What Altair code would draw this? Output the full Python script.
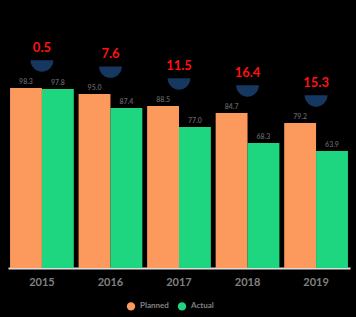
import altair as alt
import pandas as pd

years = ["2015", "2016", "2017", "2018", "2019"]
series_names = ["Planned", "Actual"]
planned = [98.3, 95.0, 88.5, 84.7, 79.2]
actual = [97.8, 87.4, 77.0, 68.3, 63.9]
gap_labels = ["0.5", "7.6", "11.5", "16.4", "15.3"]

rows = []
for i, y in enumerate(years):
    rows.append({"year": y, "series": series_names[0], "value": planned[i], "label": f"{planned[i]:.1f}"})
    rows.append({"year": y, "series": series_names[1], "value": actual[i], "label": f"{actual[i]:.1f}"})
df = pd.DataFrame(rows)
gap_df = pd.DataFrame({"year": years, "top": planned, "gap": gap_labels})

xscale = alt.Scale(domain=years, paddingInner=0.07, paddingOuter=0.03)
yscale = alt.Scale(domain=[0, 130])
color = alt.Scale(domain=series_names, range=["#FC9A5E", "#1ED680"])

x = alt.X("year:N", scale=xscale, sort=years,
          axis=alt.Axis(title=None, labelAngle=0, ticks=False, domainColor="#dddddd",
                        domainWidth=2, labelColor="#808080", labelFontSize=11,
                        labelFontWeight="bold", labelPadding=8, labelFont="Lato"))
y = alt.Y("value:Q", scale=yscale, axis=None)

bars = alt.Chart(df).mark_bar().encode(
    x=x, y=y,
    xOffset=alt.XOffset("series:N", sort=series_names),
    color=alt.Color("series:N", scale=color, sort=series_names,
                    legend=alt.Legend(title=None, orient="none", legendX=118, legendY=271,
                                      direction="horizontal", symbolType="circle",
                                      symbolSize=70, labelColor="#808080", labelFontSize=8,
                                      labelFontWeight="bold", columnPadding=8, labelFont="Lato")),
)

vals = alt.Chart(df).mark_text(dy=-6, fontSize=7, fontWeight="bold", color="#5c5c5c", font="Lato").encode(
    x=alt.X("year:N", scale=xscale, sort=years), y=y,
    xOffset=alt.XOffset("series:N", sort=series_names), text="label:N",
)

chev = alt.Chart(gap_df).mark_point(shape="M -1 -0.5 A 1 1 0 0 0 1 -0.5 Z", filled=True, size=520,
                                    color="#16375f", opacity=1, yOffset=-22).encode(
    x=alt.X("year:N", scale=xscale, sort=years),
    y=alt.Y("top:Q", scale=yscale),
)

gap = alt.Chart(gap_df).mark_text(dy=-40, fontSize=13, fontWeight="bold", color="#FF1111", font="Lato").encode(
    x=alt.X("year:N", scale=xscale, sort=years),
    y=alt.Y("top:Q", scale=yscale),
    text="gap:N",
)

chart = alt.layer(bars, vals, chev, gap).properties(
    width=342, height=238,
    background="#000000",
    padding={"left": 8, "top": 30, "right": 6, "bottom": 49},
    autosize=alt.AutoSizeParams(type="none"),
).configure_view(stroke=None)

chart.save("out.html", embed_options={"renderer": "svg", "actions": False})
